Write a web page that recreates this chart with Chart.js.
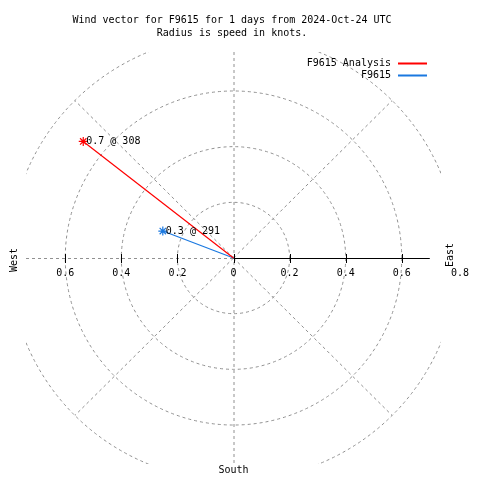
<!DOCTYPE html>
<html>
<head>
<meta charset="utf-8">
<script src="https://cdn.jsdelivr.net/npm/chart.js@4.4.1/dist/chart.umd.min.js"></script>
<style>
  html, body { margin: 0; padding: 0; background: #fff; }
</style>
</head>
<body>
<canvas id="windChart" width="480" height="480"></canvas>
<script>
// wind vectors: speed in knots, direction in degrees (clockwise from north)
const seriesNames = ['F9615 Analysis', 'F9615'];
const speeds = [0.68, 0.27];
const directions = [308, 291];
const seriesColors = ['#ff0000', '#1a78e0'];

const ringValues = [0.2, 0.4, 0.6, 0.8];
const spokeAngles = [45, 135, 225, 315];
const leftTicks = [-0.6, -0.4, -0.2];
const rightTicks = [0, 0.2, 0.4, 0.6];
const titleLines = ['Wind vector for F9615 for 1 days from 2024-Oct-24 UTC', 'Radius is speed in knots.'];

const monoFont = '10px "DejaVu Sans Mono", "Liberation Mono", monospace';
const gridColor = '#909090';

function toXY(speed, dir) {
    const rad = dir * Math.PI / 180;
    return { x: speed * Math.sin(rad), y: speed * Math.cos(rad) };
}

const datasets = seriesNames.map((name, i) => {
    const end = toXY(speeds[i], directions[i]);
    return {
        label: name,
        data: [{ x: 0, y: 0 }, end],
        showLine: true,
        borderColor: seriesColors[i],
        borderWidth: 1.2,
        pointStyle: 'star',
        pointRadius: [0, 4.5],
        pointBorderColor: seriesColors[i],
        pointBorderWidth: 1.2,
        clip: false
    };
});

const polarGrid = {
    id: 'polarGrid',
    beforeDatasetsDraw(chart) {
        const ctx = chart.ctx;
        const xs = chart.scales.x;
        const ys = chart.scales.y;
        const area = chart.chartArea;
        const cx = xs.getPixelForValue(0);
        const cy = ys.getPixelForValue(0);

        ctx.save();
        ctx.beginPath();
        ctx.rect(area.left, area.top, area.right - area.left, area.bottom - area.top);
        ctx.clip();
        ctx.strokeStyle = gridColor;
        ctx.lineWidth = 1;
        ctx.setLineDash([3, 3]);

        ringValues.forEach(v => {
            const rx = xs.getPixelForValue(v) - cx;
            const ry = cy - ys.getPixelForValue(v);
            ctx.beginPath();
            ctx.ellipse(cx, cy, rx, ry, 0, 0, Math.PI * 2);
            ctx.stroke();
        });

        const rMax = ringValues[ringValues.length - 1];
        spokeAngles.forEach(a => {
            const p = toXY(rMax, a);
            ctx.beginPath();
            ctx.moveTo(cx, cy);
            ctx.lineTo(xs.getPixelForValue(p.x), ys.getPixelForValue(p.y));
            ctx.stroke();
        });

        // north-south line and west half of the axis
        ctx.beginPath();
        ctx.moveTo(cx + 0.5, area.top);
        ctx.lineTo(cx + 0.5, area.bottom);
        ctx.moveTo(area.left, cy + 0.5);
        ctx.lineTo(cx, cy + 0.5);
        ctx.stroke();
        ctx.restore();

        // solid east axis
        ctx.save();
        ctx.strokeStyle = '#000';
        ctx.lineWidth = 1;
        ctx.beginPath();
        ctx.moveTo(cx, cy + 0.5);
        ctx.lineTo(xs.getPixelForValue(0.7), cy + 0.5);
        ctx.stroke();

        // tick marks
        leftTicks.concat(rightTicks).forEach(v => {
            const px = Math.round(xs.getPixelForValue(v)) + 0.5;
            ctx.beginPath();
            ctx.moveTo(px, cy - 4);
            ctx.lineTo(px, cy + 5);
            ctx.stroke();
        });
        ctx.restore();
    },
    afterDatasetsDraw(chart) {
        const ctx = chart.ctx;
        const xs = chart.scales.x;
        const ys = chart.scales.y;
        const cx = xs.getPixelForValue(0);
        const cy = ys.getPixelForValue(0);

        ctx.save();
        ctx.font = monoFont;
        ctx.fillStyle = '#000';
        ctx.textBaseline = 'middle';

        // title
        ctx.textAlign = 'center';
        ctx.fillText(titleLines[0], 232, 20);
        ctx.fillText(titleLines[1], 232, 33);

        // tick labels
        leftTicks.concat(rightTicks).forEach(v => {
            ctx.fillText(String(Math.abs(v)), xs.getPixelForValue(v), cy + 15);
        });
        ctx.fillText('0.8', 460, cy + 15);
        ctx.fillText('South', cx, 470);

        // vector labels
        ctx.textAlign = 'left';
        seriesNames.forEach((name, i) => {
            const end = toXY(speeds[i], directions[i]);
            const label = speeds[i].toFixed(1) + ' @ ' + directions[i];
            ctx.fillText(label, xs.getPixelForValue(end.x) + 3, ys.getPixelForValue(end.y));
        });

        // legend: text then a coloured line sample
        ctx.textAlign = 'right';
        seriesNames.forEach((name, i) => {
            const y = 63 + i * 12;
            ctx.fillStyle = '#000';
            ctx.fillText(name, 391, y);
            ctx.fillStyle = seriesColors[i];
            ctx.fillRect(398, y - 0.5, 29, 2);
        });

        // rotated compass labels
        ctx.fillStyle = '#000';
        ctx.textAlign = 'center';
        [['West', 14, 260], ['East', 450, 255]].forEach(([t, x, y]) => {
            ctx.save();
            ctx.translate(x, y);
            ctx.rotate(-Math.PI / 2);
            ctx.fillText(t, 0, 0);
            ctx.restore();
        });
        ctx.restore();
    }
};

new Chart(document.getElementById('windChart'), {
    type: 'scatter',
    data: { datasets: datasets },
    options: {
        responsive: false,
        animation: false,
        layout: {
            padding: { left: 26, right: 39, top: 52, bottom: 16 }
        },
        plugins: {
            legend: { display: false },
            title: { display: false },
            tooltip: { enabled: false }
        },
        scales: {
            x: { type: 'linear', min: -0.74, max: 0.74, display: false },
            y: { type: 'linear', min: -0.74, max: 0.74, display: false }
        }
    },
    plugins: [polarGrid]
});
</script>
</body>
</html>
